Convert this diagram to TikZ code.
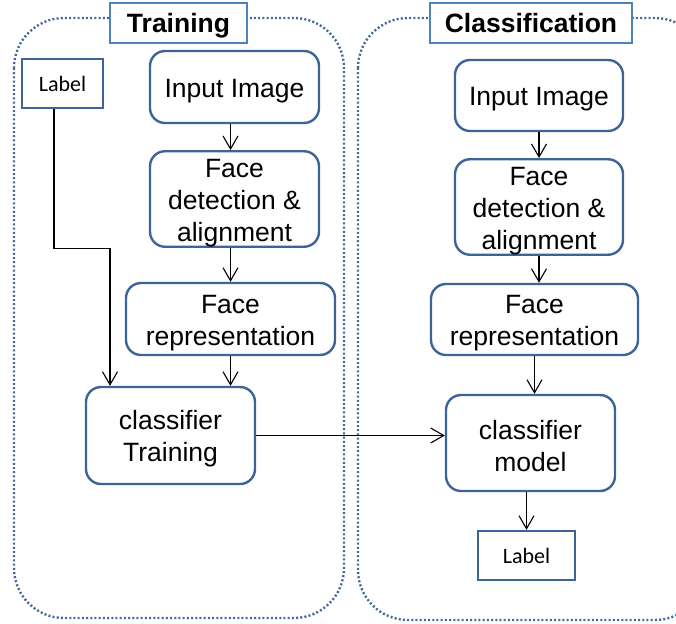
\documentclass[tikz,border=0pt]{standalone}
\usepackage{fontspec}
\setmainfont{Liberation Sans}
\newfontfamily\labelfont{Carlito}
\usetikzlibrary{arrows.meta}

\definecolor{boxblue}{HTML}{3D6496}
\definecolor{titleblue}{HTML}{4F81BD}
\definecolor{dotblue}{HTML}{44689C}

% extra headroom on the first line of a box text
\newcommand\firstlinestrut{\rule{0pt}{26pt}}

\tikzset{
  container/.style={draw=dotblue, line width=2.4pt, dash pattern=on 2pt off 2.2pt, rounded corners=50pt},
  titlebox/.style={draw=titleblue, line width=2.4pt, fill=white, inner sep=0pt,
    font=\fontsize{26.5}{30}\selectfont\bfseries, text height=25pt, text depth=5.6pt},
  stepbox/.style={draw=boxblue, line width=2.4pt, rounded corners=15pt, inner sep=0pt,
    align=center, font=\fontsize{26.5}{32}\selectfont},
  labelbox/.style={draw=boxblue, line width=2.4pt, inner sep=0pt,
    font=\labelfont\fontsize{22}{24}\selectfont},
  arr/.style={draw=black, line width=1.1pt, -{Straight Barb[length=13pt,width=15pt,line width=1.1pt]}},
}

\begin{document}
\begin{tikzpicture}[x=1pt,y=-1pt]
\useasboundingbox (0,0) rectangle (676,623);

% dotted group outlines
\begin{scope}
  \clip (0,0) rectangle (676,623);
  \draw[container] (14,18) rectangle (344,618);
  \draw[container] (358,18) rectangle (705,620);
\end{scope}

% group titles
\node[titlebox, minimum width=137pt, minimum height=40pt] (t1) at (178.5,23) {Training};
\node[titlebox, minimum width=202pt, minimum height=40pt] (t2) at (531,23) {Classification};

% training column
\node[labelbox, minimum width=81pt, minimum height=49pt] (lab1) at (62.5,83.5) {Label};
\node[stepbox, minimum width=169pt, minimum height=72pt] (in1) at (234.5,87) {\firstlinestrut Input Image};
\node[stepbox, minimum width=169pt, minimum height=88pt] (fd1) at (234.5,199) {\firstlinestrut Face\\detection \&\\alignment};
\node[stepbox, minimum width=209pt, minimum height=72pt] (fr1) at (230.5,319) {\firstlinestrut Face\\representation};
\node[stepbox, minimum width=169pt, minimum height=97pt] (ct) at (170.5,435.5) {\firstlinestrut classifier\\Training};

% classification column
\node[stepbox, minimum width=168pt, minimum height=71pt] (in2) at (539,95.5) {\firstlinestrut Input Image};
\node[stepbox, minimum width=168pt, minimum height=88pt] (fd2) at (539,207) {\firstlinestrut Face\\detection \&\\alignment};
\node[stepbox, minimum width=207pt, minimum height=71pt] (fr2) at (534.5,319.5) {\firstlinestrut Face\\representation};
\node[stepbox, minimum width=169pt, minimum height=96pt] (cm) at (530.5,443) {\firstlinestrut classifier\\model};
\node[labelbox, minimum width=97pt, minimum height=49pt] (lab2) at (526.5,555.5) {Label};

% training flow
\draw[arr] (in1.south -| fr1.north) -- (fd1.north -| fr1.north);
\draw[arr] (fd1.south -| fr1.north) -- (fr1.north);
\draw[arr] (fr1.south) -- (fr1.south |- ct.north);
\draw[arr] ([xshift=-8.5pt]lab1.south) -- ++(0,139) -| ([xshift=-60.5pt]ct.north);

% classification flow
\draw[arr] (in2.south) -- (fd2.north);
\draw[arr] (fd2.south) -- (fd2.south |- fr2.north);
\draw[arr] (fr2.south) -- (fr2.south |- cm.north);
\draw[arr] (lab2.north |- cm.south) -- (lab2.north);

% trained classifier feeds the model
\draw[arr] (ct.east) -- (ct.east -| cm.west);
\end{tikzpicture}
\end{document}
